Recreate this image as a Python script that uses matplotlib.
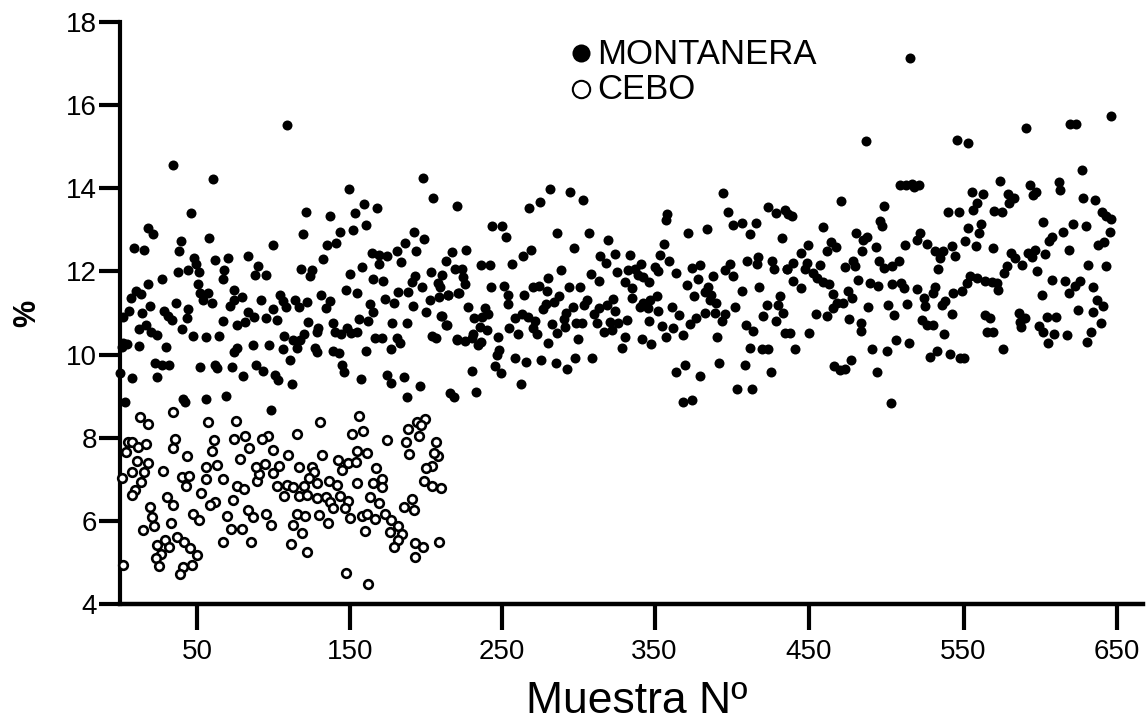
import matplotlib
matplotlib.use('Agg')
import matplotlib.pyplot as plt

# Datos (muestra, %)
cebo_x = [1.7, 1, 4, 5, 8, 12, 17, 13, 18.5, 11, 18.5, 7.6, 16, 13.5, 10, 7.6, 19.6, 20.7, 22.4, 14.8,
          24, 29.4, 27, 23.5, 25.7, 32, 37, 42, 45.8, 50.5, 46.8, 41, 39, 33.3, 34.4, 31, 28, 34.4, 36, 34.4,
          44, 40.3, 45.3, 43, 48, 51.6, 53, 56, 56, 63.6, 60, 61.4, 57.7, 75.6, 74.7, 82, 84.3, 78.4, 67.5, 76.7,
          81, 73.6, 62, 58.8, 69.7, 67.5, 72.3, 79.5, 85.6, 83.9, 87, 95.4, 98.7, 89.3, 90.8, 88.9, 94.8, 100, 104, 100,
          97, 93, 110, 116, 130.7, 156, 151.4, 159, 174.7, 131.8, 154.7, 161.7, 142.7, 149, 154, 145, 117, 125.7, 127, 123.7,
          128.5, 136.8, 142, 154.7, 167, 171, 165.6, 171, 163.4, 169, 102.4, 109, 113, 120, 107.4, 117, 122.4, 128.5, 134.7, 137.3,
          144, 149, 139.4, 147, 150, 115.5, 121, 130, 135.7, 113, 118.7, 111.6, 122.4, 148, 162.3, 158, 161.3, 166.7, 160, 173,
          177, 181.5, 176.5, 184.5, 182, 179.3, 192.8, 198, 192.8, 208.7, 185.6, 191, 192, 199, 204, 210, 204, 200, 207.6, 205,
          206.5, 189, 186.7, 188.5, 195.4, 194, 199.4, 196.6]
cebo_y = [4.94, 7.02, 7.65, 7.9, 7.9, 7.77, 7.85, 8.5, 8.33, 7.44, 7.4, 7.18, 7.18, 6.94, 6.74, 6.62, 6.33, 6.1, 5.88, 5.78,
          5.42, 5.54, 5.2, 5.1, 4.92, 5.38, 5.62, 5.48, 5.34, 5.18, 4.94, 4.9, 4.72, 5.96, 6.37, 6.58, 7.2, 7.75, 7.97, 8.63,
          7.57, 7.06, 7.08, 6.84, 6.16, 6.02, 6.68, 7.0, 7.29, 7.34, 7.69, 7.95, 8.38, 8.41, 7.97, 8.03, 7.75, 7.48, 7.0, 6.85,
          6.76, 6.5, 6.46, 6.37, 6.12, 5.48, 5.8, 5.8, 5.48, 6.26, 6.1, 6.16, 5.9, 6.97, 7.13, 7.3, 7.37, 7.14, 7.32, 7.7,
          8.03, 7.96, 7.58, 8.08, 8.38, 8.53, 8.09, 8.17, 7.95, 7.58, 7.68, 7.64, 7.46, 7.4, 7.41, 7.22, 7.3, 7.3, 7.17, 7.02,
          6.9, 6.97, 6.86, 6.92, 7.26, 7.0, 6.9, 6.81, 6.58, 6.42, 6.84, 6.86, 6.81, 6.85, 6.6, 6.6, 6.62, 6.56, 6.57, 6.46,
          6.6, 6.48, 6.3, 6.3, 6.06, 6.16, 6.12, 6.13, 5.96, 5.9, 5.7, 5.44, 5.26, 4.74, 4.47, 6.12, 6.16, 6.04, 5.76, 6.17,
          6.02, 5.88, 5.74, 5.68, 5.54, 5.36, 5.46, 5.38, 5.14, 5.5, 6.34, 6.53, 6.25, 6.97, 6.84, 6.78, 7.32, 7.26, 7.56, 7.64,
          7.9, 7.62, 7.9, 8.21, 8.03, 8.39, 8.44, 8.31]

mont_x = [109.4, 34.9, 60.6, 46.2, 18.1, 21.4, 9.2, 15.7, 39.7, 38.6, 58.2, 99.8, 119.4, 121.8, 137.5, 149.7, 153.6, 159.7, 168.2, 160.8,
          152.3, 143.8, 141.2, 135, 132.7, 198.3, 204.6, 220, 192.4, 198.5, 186, 181.3, 193.7, 216.8, 183.7, 174.3, 169.5, 164.5, 169, 213,
          219.2, 158.4, 150.1, 118, 125.3, 124.2, 48.6, 49.7, 44.7, 51.8, 37.7, 62, 70.6, 68.2, 67.1, 83.9, 90, 88.5, 95.2, 27.7,
          18.3, 10.5, 13.5, 7, 51.2, 52.3, 57.3, 54, 60, 36.6, 19.4, 44.7, 14.6, 29, 31.6, 34.2, 43.6, 6, 2.2, 16.8,
          12.2, 20, 24.4, 40.3, 47.5, 56.2, 65, 67.1, 74.5, 79.5, 74.7, 71.9, 76.5, 83.4, 81.7, 87.6, 92, 99.8, 95.4, 102.4,
          104.8, 106.3, 108.5, 114.6, 117, 122, 131.6, 137.3, 134.4, 147.5, 154.7, 165.6, 172.1, 163.4, 165.6, 173.2, 179.1, 181.5, 192.8, 190.6,
          197.2, 188.5, 191.3, 203.5, 210.2, 208, 209.2, 208.5, 214.4, 202.6, 200, 209.6, 213.5, 220.7, 177.8, 187.6, 156, 162, 139, 123.1,
          129.6, 128.5, 140.5, 144.2, 148.6, 150.8, 154.7, 107.4, 120.5, 113.3, 117.7, 116, 86.7, 97.6, 106.3, 76.7, 74.7, 127.5, 128.5, 139,
          143, 160.8, 177, 180.8, 183, 166.7, 171, 204, 206.3, 220, 30, 12.4, 4.4, 1.1, 1.7, 111, 23, 27.2, 32.2, 145.3,
          146.6, 52.5, 62, 63.2, 73.4, 88.9, 93.7, 101.3, 103.5, 80.6, 7.6, 24.4, 0, 157.5, 174.3, 177, 185.4, 112.2, 196.3, 187.6,
          215.7, 218.3, 41.4, 56.2, 69.3, 3.3, 42.5, 98.7,
          280.9, 294.2, 302.9, 274.6, 267.6, 243.4, 249.7, 252.1, 285.9, 306.8, 319, 394.4, 397.2, 357.8, 356.7, 400.9, 406.4, 415.5, 411.6, 423.8,
          428.8, 434.7, 436.9, 371.3, 383.5, 432.5, 355.6, 297, 226.4, 268.7, 263.7, 256, 236, 241.9, 313.8, 317.5, 323.6, 333.4, 353, 359.1,
          340.8, 332.3, 336.6, 349.7, 351.9, 325.1, 338.8, 342.1, 346, 330.1, 363.4, 373.7, 379.1, 387.4, 398.7, 395.5, 400.5, 410.1, 417.3, 416.6,
          426.4, 427.7, 435.8, 223.4, 224, 225.5, 288.5, 280, 307.9, 313.1, 242.3, 250.8, 270.2, 274.1, 278.9, 293.7, 300.9, 221.8, 214.6, 264.3,
          253.4, 253.4, 287.2, 283.7, 278.5, 276.3, 305.1, 303.3, 295.9, 291.6, 290.2, 290.9, 285.9, 322.5, 318.1, 313.3, 309.9, 311.6, 323.6, 334.9,
          334.9, 350.8, 346.5, 342.1, 339.9, 345.4, 351.9, 370.4, 377.6, 384.6, 382.4, 375.2, 386.1, 385.7, 389.6, 406.4, 417.9, 431.4, 422.7, 430.3,
          402, 360.6, 365.6, 382.4, 389, 395.7, 393.3, 376.3, 372.6, 420.5, 433.6, 428.8, 409.2, 414, 434.7, 346, 354.3, 361.7, 367.8, 356.9,
          390, 411.8, 419.4, 423.8, 320.3, 331.2, 325.8, 321.4, 316.6, 330.1, 341, 346.9, 327.9, 299.6, 280, 301.8, 298.1, 282.2, 272.4, 269.8,
          271.3, 266.9, 262.6, 258.2, 260, 254.5, 247.3, 238.6, 240.8, 236.4, 231.6, 227.7, 235.3, 239.7, 231, 225.5, 220.5, 229.9, 235.8, 234.3,
          213.1, 210.3, 247.8, 246.2, 245.1, 248.9, 230.3, 258.4, 265.4, 275.4, 285.2, 292.4, 297.4, 308.3, 261.9, 232.7, 391.3, 408.3, 425.3, 369.3,
          363.2, 379.1, 403.3, 413.1, 367.8, 374.1,
          516.1, 487.4, 546.9, 554.5, 592, 621, 624.9, 647.7, 628.6, 509.8, 513.8, 517.7, 519.2, 522.2, 471.3, 499.4, 439, 575.2, 556.7, 563.9,
          594.8, 598.7, 597, 614, 614.4, 580.2, 584.3, 581.3, 629.7, 637.1, 560.4, 557.8, 541, 548.2, 571.3, 576.7, 641.6, 644.5, 647.5, 496.8,
          498.3, 459.3, 603.5, 622.7, 631.2, 563, 554.5, 561.7, 616.6, 609, 607.2, 647.1, 522.9, 481.1, 488.5, 485.9, 521.2, 513.1, 527.7, 464.5,
          468, 461.9, 449.5, 493.9, 484.8, 543.6, 552.1, 559.5, 570.4, 639.5, 643.2, 620.3, 532.7, 538.2, 536, 545.8, 444.9, 582.4, 585, 589.4,
          593.7, 598.1, 596.3, 604.6, 496.1, 499.6, 504.4, 509.4, 478.9, 480.4, 473.9, 439.7, 436.2, 448.8, 447.7, 457.5, 453.2, 534.9, 579.5, 577.8,
          599.6, 632.9, 644.5, 455.4, 459.7, 463.6, 440.1, 444.9, 482.6, 490.2, 495.2, 504.4, 510.3, 512.4, 520.7, 532.7, 531.2, 555.6, 560, 553.4,
          565.4, 569.7, 573, 574.1, 550.1, 544.7, 609.4, 617.9, 627.5, 624.2, 620.3, 636.2, 602.4, 475.6, 465.8, 478.2, 472.8, 468.9, 466.3, 525.5,
          526.2, 539.2, 537.1, 638.4, 642.3, 626.4, 636.2, 488.7, 502.2, 514.4, 454.7, 461.9, 476.5, 505.9, 543.6, 565.4, 568.7, 587.6, 591.5, 588.3,
          588.7, 605.7, 611.8, 641, 524, 527.3, 531.2, 484.1, 484.1, 600.7, 603.5, 610.7, 619.2, 634.9, 632.3, 606.8, 538.8, 566.5, 570.8, 450.6,
          437.9, 441.2, 507, 515.7, 491.3, 501.1, 576.9, 533.8, 529.4, 542.5, 549, 551.7, 477.8, 466.7, 470.6, 473.9, 495, 503.7]
mont_y = [15.52, 14.57, 14.23, 13.41, 13.04, 12.89, 12.57, 12.52, 12.72, 12.48, 12.81, 12.64, 12.89, 13.43, 13.34, 13.98, 13.4, 13.62, 13.53, 13.12,
          13.0, 12.94, 12.68, 12.63, 12.31, 14.24, 13.76, 13.57, 12.95, 12.78, 12.68, 12.5, 12.5, 12.47, 12.23, 12.37, 12.39, 12.44, 12.18, 12.25,
          12.06, 12.11, 11.95, 12.05, 12.03, 11.9, 12.32, 12.18, 12.04, 11.99, 11.99, 12.27, 12.32, 12.04, 11.81, 12.36, 12.14, 11.91, 11.91, 11.81,
          11.69, 11.54, 11.45, 11.37, 11.69, 11.49, 11.47, 11.31, 11.25, 11.23, 11.18, 11.1, 11.0, 11.06, 10.92, 10.82, 10.87, 11.06, 10.91, 10.71,
          10.61, 10.55, 10.47, 10.61, 10.45, 10.42, 10.45, 10.8, 11.55, 11.38, 11.31, 11.18, 10.7, 11.03, 10.79, 10.91, 11.31, 11.1, 10.87, 10.84,
          11.43, 11.3, 11.15, 11.31, 11.14, 11.26, 11.43, 11.3, 11.11, 11.55, 11.47, 11.82, 11.77, 11.22, 11.03, 11.33, 11.25, 11.51, 11.89, 11.75,
          11.63, 11.51, 11.17, 11.98, 11.92, 11.71, 11.62, 11.38, 11.43, 11.31, 11.03, 10.93, 10.71, 11.47, 10.75, 10.76, 10.86, 10.8, 10.76, 10.79,
          10.63, 10.55, 10.54, 10.5, 10.63, 10.51, 10.55, 10.45, 10.49, 10.35, 10.35, 10.17, 10.22, 10.22, 10.13, 10.15, 10.05, 10.15, 10.06, 10.09,
          10.03, 10.09, 10.13, 10.41, 10.27, 10.4, 10.39, 10.45, 10.41, 10.37, 10.18, 10.21, 10.25, 10.18, 10.29, 9.87, 9.79, 9.75, 9.75, 9.76,
          9.59, 9.69, 9.75, 9.67, 9.69, 9.74, 9.61, 9.51, 9.4, 9.49, 9.43, 9.47, 9.55, 9.41, 9.52, 9.32, 9.47, 9.29, 9.25, 8.99,
          9.07, 8.97, 8.92, 8.93, 9.01, 8.87, 8.87, 8.67,
          13.98, 13.9, 13.72, 13.66, 13.53, 13.1, 13.1, 12.82, 12.93, 12.93, 12.76, 13.88, 13.42, 13.37, 13.24, 13.12, 13.16, 13.16, 12.89, 13.56,
          13.4, 13.48, 13.37, 12.93, 13.02, 12.8, 12.66, 12.57, 12.51, 12.51, 12.37, 12.18, 12.15, 12.15, 12.37, 12.2, 12.43, 12.39, 12.39, 12.26,
          12.18, 12.03, 12.05, 12.11, 12.01, 11.98, 11.91, 11.87, 11.75, 11.75, 11.97, 12.09, 12.15, 11.9, 12.18, 12.03, 11.89, 12.26, 12.35, 12.17,
          12.25, 12.05, 12.05, 12.06, 11.86, 11.7, 12.03, 11.85, 11.93, 11.78, 11.62, 11.66, 11.62, 11.66, 11.53, 11.63, 11.62, 11.47, 11.43, 11.43,
          11.43, 11.21, 11.41, 11.27, 11.21, 11.09, 11.31, 11.19, 11.15, 11.01, 10.85, 10.67, 10.51, 11.33, 11.19, 11.11, 10.98, 10.77, 11.05, 11.59,
          11.37, 11.41, 11.31, 11.23, 11.14, 11.11, 11.05, 11.67, 11.82, 11.63, 11.51, 11.42, 11.43, 11.31, 11.23, 11.54, 11.63, 11.42, 11.19, 11.19,
          11.14, 11.14, 10.95, 11.01, 10.99, 10.98, 10.81, 10.87, 10.73, 10.93, 11.01, 10.8, 10.71, 10.57, 10.53, 10.81, 10.69, 10.64, 10.47, 10.42,
          10.43, 10.16, 10.13, 10.13, 10.79, 10.82, 10.77, 10.59, 10.55, 10.43, 10.37, 10.25, 10.15, 10.37, 10.29, 10.77, 10.75, 10.73, 10.49, 10.65,
          10.81, 10.91, 10.97, 10.87, 10.49, 10.63, 10.42, 11.11, 10.98, 10.9, 10.89, 11.14, 10.67, 10.59, 10.49, 10.33, 10.36, 10.39, 10.31, 10.23,
          10.71, 10.93, 10.11, 10.0, 9.73, 9.55, 9.6, 9.91, 9.83, 9.88, 9.8, 9.65, 9.92, 9.92, 9.29, 9.11, 9.8, 9.76, 9.59, 9.76,
          9.57, 9.49, 9.18, 9.18, 8.85, 8.91,
          17.14, 15.13, 15.17, 15.08, 15.44, 15.55, 15.54, 15.73, 14.44, 14.07, 14.07, 14.11, 14.04, 14.07, 13.7, 13.57, 13.34, 14.17, 13.9, 13.86,
          14.08, 13.9, 13.84, 14.14, 13.95, 13.87, 13.77, 13.64, 13.77, 13.72, 13.64, 13.48, 13.44, 13.44, 13.46, 13.44, 13.42, 13.34, 13.26, 13.21,
          13.1, 13.08, 13.18, 13.15, 13.1, 13.15, 13.04, 12.92, 12.96, 12.82, 12.72, 12.96, 12.93, 12.92, 12.84, 12.76, 12.76, 12.64, 12.65, 12.7,
          12.59, 12.48, 12.63, 12.59, 12.5, 12.6, 12.73, 12.6, 12.56, 12.64, 12.7, 12.52, 12.49, 12.48, 12.32, 12.36, 12.44, 12.44, 12.32, 12.16,
          12.44, 12.52, 12.34, 12.42, 12.25, 12.09, 12.13, 12.25, 12.26, 12.14, 12.1, 12.21, 12.06, 12.2, 12.05, 12.16, 11.96, 12.06, 12.12, 11.96,
          12.02, 12.16, 12.12, 11.84, 11.74, 11.69, 11.78, 11.6, 11.79, 11.72, 11.64, 11.69, 11.72, 11.6, 11.57, 11.62, 11.48, 11.89, 11.84, 11.73,
          11.76, 11.74, 11.72, 11.56, 11.52, 11.48, 11.8, 11.76, 11.76, 11.64, 11.48, 11.62, 11.44, 11.53, 11.46, 11.35, 11.24, 11.24, 11.11, 11.35,
          11.18, 11.28, 11.19, 11.31, 11.17, 11.07, 11.03, 11.15, 11.19, 11.21, 10.97, 10.93, 10.85, 10.94, 10.98, 10.95, 10.89, 10.99, 10.87, 10.79,
          10.67, 10.91, 10.91, 10.77, 10.82, 10.71, 10.71, 10.75, 10.57, 10.69, 10.54, 10.5, 10.46, 10.55, 10.31, 10.28, 10.49, 10.55, 10.54, 10.51,
          10.53, 10.13, 10.35, 10.27, 10.13, 10.09, 10.14, 10.09, 9.95, 10.01, 9.91, 9.91, 9.87, 9.73, 9.63, 9.65, 9.59, 8.83]

# En el original las marcas del eje X no estan del todo regulares
x_tick_pos = [50.3, 150.3, 249.7, 349.4, 450, 551.3, 651.6]
x_tick_labels = ['50', '150', '250', '350', '450', '550', '650']
y_ticks = [4, 6, 8, 10, 12, 14, 16, 18]

plt.rcParams['font.family'] = ['Liberation Sans', 'DejaVu Sans']

W, H = 1148, 726
fig = plt.figure(figsize=(W / 100, H / 100), dpi=100)
ax = fig.add_axes([120 / W, 1 - 604 / H, 1023 / W, 582 / H])

ax.plot(mont_x, mont_y, 'o', color='black', ms=7.2, mew=0, clip_on=False, zorder=3)
ax.plot(cebo_x, cebo_y, 'o', mfc='white', mec='black', ms=6.2, mew=1.9, clip_on=False, zorder=4)

ax.set_xlim(0, 668.6)
ax.set_ylim(4, 18)
ax.set_xticks(x_tick_pos, x_tick_labels)
ax.set_yticks(y_ticks)
ax.spines['top'].set_visible(False)
ax.spines['right'].set_visible(False)
ax.spines['left'].set_linewidth(3)
ax.spines['bottom'].set_linewidth(3.2)
ax.tick_params(axis='y', length=15, width=3, labelsize=20, pad=1.5)
ax.tick_params(axis='x', length=19, width=3, labelsize=20, pad=6)

ax.set_xlabel('Muestra Nº', fontsize=32, x=0.505, labelpad=12)
ax.set_ylabel('%', fontsize=22, fontweight='bold', labelpad=17)

# Leyenda a mano, como en el original
ax.plot([301], [17.25], 'o', color='black', ms=13, mew=0)
ax.plot([301], [16.39], 'o', mfc='white', mec='black', ms=12.5, mew=1.5)
ax.text(312, 17.21, 'MONTANERA', fontsize=25, va='center', ha='left')
ax.text(312, 16.37, 'CEBO', fontsize=25, va='center', ha='left')

plt.savefig('out.png', dpi=100)
